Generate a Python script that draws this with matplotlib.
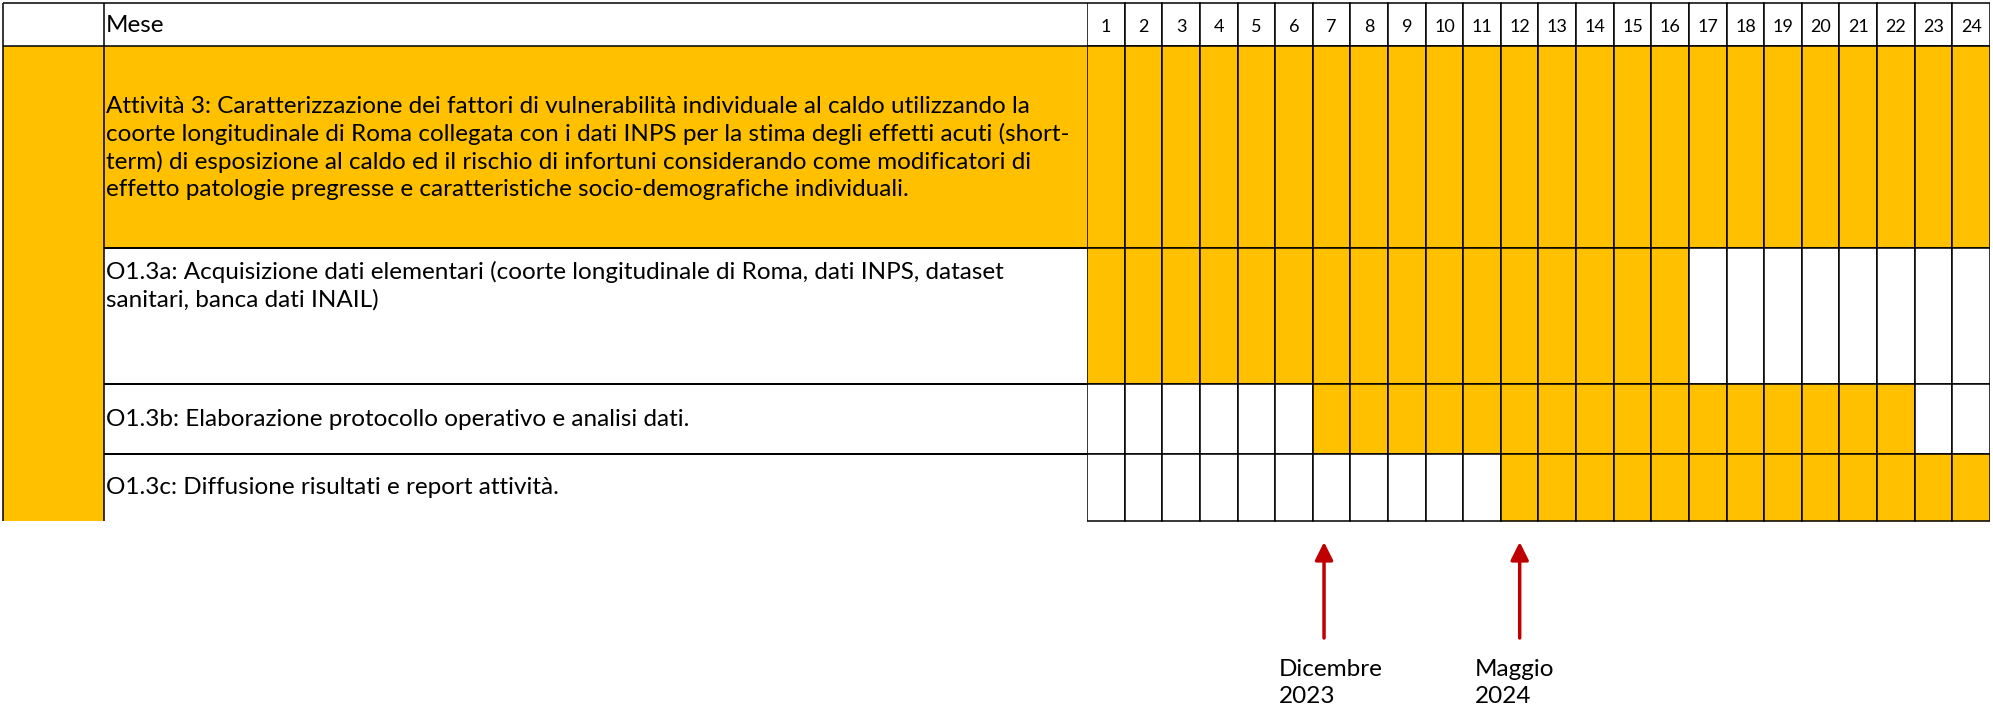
import matplotlib
matplotlib.use("Agg")
import matplotlib.pyplot as plt
from matplotlib.patches import Rectangle

# ---------------- data ----------------
months = list(range(1, 25))
header_label = "Mese"
tasks = [
    "Attività 3: Caratterizzazione dei fattori di vulnerabilità individuale al caldo utilizzando la\n"
    "coorte longitudinale di Roma collegata con i dati INPS per la stima degli effetti acuti (short-\n"
    "term) di esposizione al caldo ed il rischio di infortuni considerando come modificatori di\n"
    "effetto patologie pregresse e caratteristiche socio-demografiche individuali.",
    "O1.3a: Acquisizione dati elementari (coorte longitudinale di Roma, dati INPS, dataset\n"
    "sanitari, banca dati INAIL)",
    "O1.3b: Elaborazione protocollo operativo e analisi dati.",
    "O1.3c: Diffusione risultati e report attività.",
]
task_start = [1, 1, 7, 12]
task_end = [24, 16, 22, 24]
milestone_labels = ["Dicembre\n2023", "Maggio\n2024"]
milestone_month = [7, 12]
milestone_offset = [0.3, 0.5]   # fraction inside the month column

# ---------------- style / layout ----------------
W, H = 1993, 710
YELLOW = "#FFC000"
RED = "#C00000"
FONT = "Lato"
FS = 17.5
X_LEFT, X_TEXT, X_GRID, X_RIGHT = 3, 104, 1087, 1990
ROW_Y = [3, 46, 248, 384, 454, 521]        # header, activity, a, b, c
TEXT_Y = [148, 286, 419, 488]
LW = 1.1

fig = plt.figure(figsize=(W / 100, H / 100), dpi=100)
ax = fig.add_axes([0, 0, 1, 1])
ax.set_xlim(0, W)
ax.set_ylim(H, 0)
ax.axis("off")

gx = fig.add_axes([X_GRID / W, 0, (X_RIGHT - X_GRID) / W, 1])
gx.set_xlim(0, len(months))
gx.set_ylim(H, 0)
gx.axis("off")

# left merged column
ax.add_patch(Rectangle((X_LEFT, ROW_Y[1]), X_TEXT - X_LEFT, ROW_Y[-1] - ROW_Y[1],
                       facecolor=YELLOW, edgecolor="none"))
# text column fills
for i in range(len(tasks)):
    ax.add_patch(Rectangle((X_TEXT, ROW_Y[i + 1]), X_GRID - X_TEXT, ROW_Y[i + 2] - ROW_Y[i + 1],
                           facecolor=YELLOW if i == 0 else "white", edgecolor="none"))

# table lines (left part)
ax.hlines([ROW_Y[0], ROW_Y[1]], X_LEFT, X_GRID, color="black", lw=LW)
ax.hlines(ROW_Y[2:5], X_TEXT, X_GRID, color="black", lw=LW * 1.3)
ax.vlines([X_LEFT, X_TEXT], ROW_Y[0], ROW_Y[-1], color="black", lw=LW)

# header
ax.text(X_TEXT + 2, (ROW_Y[0] + ROW_Y[1]) / 2 + 1, header_label, fontsize=FS, family=FONT,
        ha="left", va="center")
x_pos = [m - 0.5 for m in months]
gx.bar(x_pos, ROW_Y[1] - ROW_Y[0], bottom=ROW_Y[0], width=1, color="white",
       edgecolor="black", lw=LW)
for xp, m in zip(x_pos, months):
    gx.text(xp, (ROW_Y[0] + ROW_Y[1]) / 2 + 2, str(m), fontsize=13, family=FONT,
            ha="center", va="center")

# gantt cells and task texts
for i, (label, s, e) in enumerate(zip(tasks, task_start, task_end)):
    top, bot = ROW_Y[i + 1], ROW_Y[i + 2]
    colors = [YELLOW if s <= m <= e else "white" for m in months]
    gx.bar(x_pos, bot - top, bottom=top, width=1, color=colors, edgecolor="black", lw=LW)
    ax.text(X_TEXT + 2, TEXT_Y[i], label, fontsize=FS, family=FONT, ha="left",
            va="center", linespacing=1.35)

# milestones
for lab, m, off in zip(milestone_labels, milestone_month, milestone_offset):
    xa = m - 1 + off
    gx.annotate("", xy=(xa, 542), xytext=(xa, 638),
                arrowprops=dict(arrowstyle="-|>", color=RED, lw=2.5,
                                mutation_scale=27, shrinkA=0, shrinkB=0))
    gx.text(xa - 1.2, 683, lab, fontsize=FS, family=FONT, ha="left", va="center",
            linespacing=1.4, clip_on=False)

fig.savefig("out.png", dpi=100)
